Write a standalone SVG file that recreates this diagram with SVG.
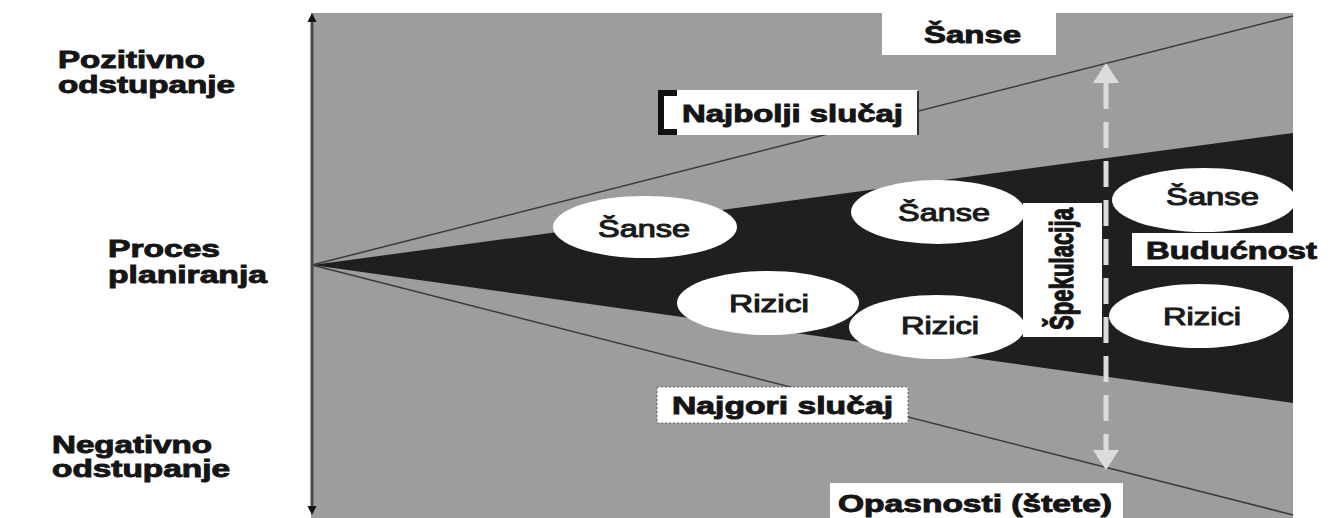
<svg xmlns="http://www.w3.org/2000/svg" width="1334" height="518" viewBox="0 0 1334 518">
<style>
  .lbl { font-family: "Liberation Sans", Arial, sans-serif; font-weight: bold; font-size: 23px; fill: #151515; stroke: #151515; stroke-width: 0.9px; }
  .ell { font-family: "Liberation Sans", Arial, sans-serif; font-weight: normal; font-size: 23px; fill: #1a1a1a; stroke: #1a1a1a; stroke-width: 1px; }
  .box { fill: #ffffff; }
  .bubble { fill: #ffffff; }
  .edge { stroke: #3a3a3a; stroke-width: 1.5; fill: none; }
</style>
<defs>
  <marker id="spekArrow" viewBox="0 0 20 26" refX="0" refY="13" markerWidth="20" markerHeight="26" markerUnits="userSpaceOnUse" orient="auto-start-reverse">
    <path d="M0,0 L20,13 L0,26 z" fill="#dcdcdc"/>
  </marker>
  <marker id="axisArrow" viewBox="0 0 10 10" refX="0" refY="5" markerWidth="9" markerHeight="10" markerUnits="userSpaceOnUse" orient="auto-start-reverse">
    <path d="M0,0 L10,5 L0,10 z" fill="#111111"/>
  </marker>
</defs>
<rect x="0" y="0" width="1334" height="518" fill="#ffffff"/>
<g id="field">
  <rect x="311" y="13" width="982" height="505" fill="#9d9d9d"/>
  <polygon points="312,265 1293,133 1293,403" fill="#1f1f1f"/>
</g>
<g id="connectors">
  <line class="edge" x1="312" y1="265" x2="1293" y2="16"/>
  <line class="edge" x1="312" y1="265" x2="1293" y2="515"/>
  <line x1="312" y1="506" x2="312" y2="22" stroke="#4a4a4a" stroke-width="3" marker-start="url(#axisArrow)" marker-end="url(#axisArrow)"/>
  <line x1="1106" y1="83" x2="1106" y2="450" stroke="#dcdcdc" stroke-width="5" stroke-dasharray="26 13" marker-start="url(#spekArrow)" marker-end="url(#spekArrow)"/>
</g>
<g id="pozitivno">
  <text class="lbl" x="58" y="68" textLength="147" lengthAdjust="spacingAndGlyphs">Pozitivno</text>
  <text class="lbl" x="58" y="93" textLength="177" lengthAdjust="spacingAndGlyphs">odstupanje</text>
</g>
<g id="proces">
  <text class="lbl" x="108" y="257" textLength="112" lengthAdjust="spacingAndGlyphs">Proces</text>
  <text class="lbl" x="108" y="283" textLength="159" lengthAdjust="spacingAndGlyphs">planiranja</text>
</g>
<g id="negativno">
  <text class="lbl" x="52" y="453" textLength="160" lengthAdjust="spacingAndGlyphs">Negativno</text>
  <text class="lbl" x="52" y="477" textLength="178" lengthAdjust="spacingAndGlyphs">odstupanje</text>
</g>
<g id="sanse-top">
  <rect class="box" x="882" y="10" width="174" height="45"/>
  <text class="lbl" x="924" y="43" textLength="97" lengthAdjust="spacingAndGlyphs">Šanse</text>
</g>
<g id="najbolji">
  <rect class="box" x="658" y="90" width="260" height="45"/>
  <path d="M677,93 H661 V132 H677" fill="none" stroke="#111111" stroke-width="6"/>
  <line x1="918" y1="91" x2="918" y2="135" stroke="#333333" stroke-width="2"/>
  <text class="lbl" x="682" y="122" textLength="221" lengthAdjust="spacingAndGlyphs">Najbolji slučaj</text>
</g>
<g id="spekulacija">
  <rect class="box" x="1023" y="203" width="79" height="134"/>
</g>
<g id="sanse-1">
  <ellipse class="bubble" cx="645" cy="227" rx="92" ry="31"/>
  <text class="ell" x="598" y="237" textLength="92" lengthAdjust="spacingAndGlyphs">Šanse</text>
</g>
<g id="sanse-2">
  <ellipse class="bubble" cx="938" cy="212" rx="87" ry="32"/>
  <text class="ell" x="898" y="221" textLength="92" lengthAdjust="spacingAndGlyphs">Šanse</text>
</g>
<g id="sanse-3">
  <ellipse class="bubble" cx="1204" cy="200" rx="92" ry="32"/>
  <text class="ell" x="1166" y="205" textLength="93" lengthAdjust="spacingAndGlyphs">Šanse</text>
</g>
<g id="rizici-1">
  <ellipse class="bubble" cx="768" cy="303" rx="91" ry="32"/>
  <text class="ell" x="729" y="312" textLength="80" lengthAdjust="spacingAndGlyphs">Rizici</text>
</g>
<g id="rizici-2">
  <ellipse class="bubble" cx="937" cy="327" rx="88" ry="32"/>
  <text class="ell" x="901" y="334" textLength="78" lengthAdjust="spacingAndGlyphs">Rizici</text>
</g>
<g id="rizici-3">
  <ellipse class="bubble" cx="1199" cy="316" rx="90" ry="32"/>
  <text class="ell" x="1163" y="325" textLength="78" lengthAdjust="spacingAndGlyphs">Rizici</text>
</g>
<g id="spekulacija-label">
  <text class="lbl" transform="translate(1073,330) scale(1.44,1) rotate(-90)" x="0" y="0" textLength="122" lengthAdjust="spacingAndGlyphs">Špekulacija</text>
</g>
<g id="buducnost">
  <rect class="box" x="1132" y="233" width="202" height="33"/>
  <text class="lbl" x="1146" y="259" textLength="171" lengthAdjust="spacingAndGlyphs">Budućnost</text>
</g>
<g id="najgori">
  <rect class="box" x="657" y="387" width="251" height="36" stroke="#666666" stroke-width="1" stroke-dasharray="2 2"/>
  <text class="lbl" x="672" y="414" textLength="221" lengthAdjust="spacingAndGlyphs">Najgori slučaj</text>
</g>
<g id="opasnosti">
  <rect class="box" x="830" y="483" width="293" height="35"/>
  <text class="lbl" x="838" y="512" textLength="274" lengthAdjust="spacingAndGlyphs">Opasnosti (štete)</text>
</g>
</svg>
